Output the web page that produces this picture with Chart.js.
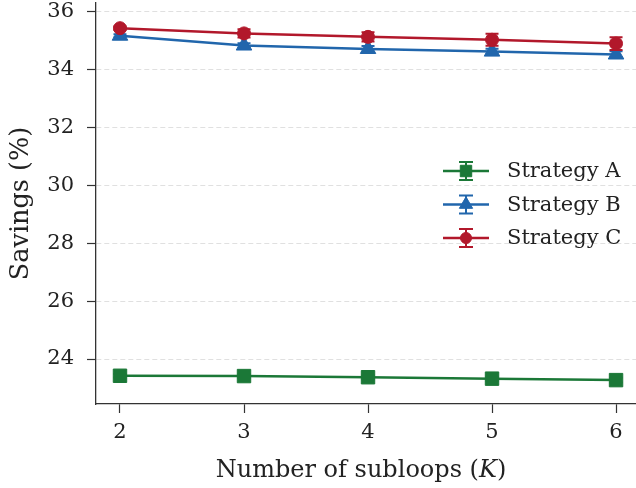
<!DOCTYPE html>
<html>
<head>
<meta charset="utf-8">
<title>Savings vs subloops</title>
<script src="https://cdn.jsdelivr.net/npm/chart.js@4.4.0/dist/chart.umd.min.js"></script>
<style>
  html, body { margin: 0; padding: 0; background: #fff; }
  #wrap { width: 636px; height: 488px; }
</style>
</head>
<body>
<div id="wrap"><canvas id="savingsChart" width="636" height="488"></canvas></div>
<script>
// data
const subloops = [2, 3, 4, 5, 6];
const yTicks = [24, 26, 28, 30, 32, 34, 36];
const seriesNames = ['Strategy A', 'Strategy B', 'Strategy C'];
const savingsA = [23.42, 23.41, 23.37, 23.32, 23.27];
const errA = [0.06, 0.06, 0.07, 0.07, 0.08];
const savingsB = [35.18, 34.84, 34.72, 34.63, 34.53];
const errB = [0.05, 0.08, 0.10, 0.10, 0.11];
const savingsC = [35.44, 35.26, 35.14, 35.04, 34.91];
const errC = [0.06, 0.14, 0.16, 0.21, 0.22];

const FONT = '"DejaVu Serif", "Liberation Serif", serif';
const TEXT = '#222222';
const AXIS = '#333333';

const looks = [
  { color: '#1b7837', marker: 'rect', radius: 9.5, order: 2 },
  { color: '#2166ac', marker: 'triangle', radius: 9, order: 1 },
  { color: '#b2182b', marker: 'circle', radius: 6.5, order: 0 }
];

function toPoints(vals) {
  return subloops.map((k, i) => ({ x: k, y: vals[i] }));
}

const values = [savingsA, savingsB, savingsC];
const errors = [errA, errB, errC];

const datasets = seriesNames.map((name, i) => ({
  label: name,
  data: toPoints(values[i]),
  errors: errors[i],
  borderColor: looks[i].color,
  backgroundColor: looks[i].color,
  borderWidth: 2.5,
  pointStyle: looks[i].marker,
  pointRadius: looks[i].radius,
  pointBorderWidth: 1,
  pointBorderColor: looks[i].color,
  pointBackgroundColor: looks[i].color,
  order: looks[i].order,
  clip: false,
  tension: 0
}));

// vertical error bars with caps, under each series' own line
const errorBars = {
  id: 'errorBars',
  beforeDatasetDraw(chart, args) {
    const ds = chart.data.datasets[args.index];
    const ys = chart.scales.y;
    const ctx = chart.ctx;
    ctx.save();
    ctx.strokeStyle = ds.borderColor;
    ctx.lineWidth = 2;
    args.meta.data.forEach((pt, i) => {
      const v = ds.data[i].y;
      const top = ys.getPixelForValue(v + ds.errors[i]);
      const bot = ys.getPixelForValue(v - ds.errors[i]);
      ctx.beginPath();
      ctx.moveTo(pt.x, top); ctx.lineTo(pt.x, bot);
      ctx.moveTo(pt.x - 6.5, top); ctx.lineTo(pt.x + 6.5, top);
      ctx.moveTo(pt.x - 6.5, bot); ctx.lineTo(pt.x + 6.5, bot);
      ctx.stroke();
    });
    ctx.restore();
  }
};

// matplotlib-like legend with errorbar handles
const legendBox = {
  id: 'legendBox',
  afterDraw(chart) {
    const ctx = chart.ctx;
    const area = chart.chartArea;
    ctx.save();
    seriesNames.forEach((name, i) => {
      const ds = chart.data.datasets[i];
      const cx = area.left + 370;
      const cy = area.top + 168 + i * 33.5;
      ctx.strokeStyle = ds.borderColor;
      ctx.fillStyle = ds.borderColor;
      ctx.lineWidth = 2.5;
      ctx.beginPath();
      ctx.moveTo(cx - 23, cy); ctx.lineTo(cx + 23, cy);
      ctx.stroke();
      ctx.lineWidth = 2;
      ctx.beginPath();
      ctx.moveTo(cx, cy - 9); ctx.lineTo(cx, cy + 9);
      ctx.moveTo(cx - 7, cy - 9); ctx.lineTo(cx + 7, cy - 9);
      ctx.moveTo(cx - 7, cy + 9); ctx.lineTo(cx + 7, cy + 9);
      ctx.stroke();
      ctx.lineWidth = 1;
      Chart.helpers.drawPoint(ctx, {
        pointStyle: looks[i].marker,
        radius: looks[i].radius * 0.85,
        rotation: 0,
        borderWidth: 1
      }, cx, cy);
      ctx.fillStyle = TEXT;
      ctx.font = '21px ' + FONT;
      ctx.textAlign = 'left';
      ctx.textBaseline = 'middle';
      ctx.fillText(name, cx + 41, cy + 1);
    });
    ctx.restore();
  }
};

// x axis title with italic K
const xTitle = {
  id: 'xTitle',
  afterDraw(chart) {
    const ctx = chart.ctx;
    const area = chart.chartArea;
    const parts = [
      { t: 'Number of subloops (', f: '24px ' + FONT },
      { t: 'K', f: 'italic 24px ' + FONT },
      { t: ')', f: '24px ' + FONT }
    ];
    ctx.save();
    let total = 0;
    parts.forEach(p => { ctx.font = p.f; p.w = ctx.measureText(p.t).width; total += p.w; });
    let x = area.left + 265 - total / 2;
    const y = area.bottom + 73;
    ctx.fillStyle = TEXT;
    ctx.textBaseline = 'alphabetic';
    ctx.textAlign = 'left';
    parts.forEach(p => { ctx.font = p.f; ctx.fillText(p.t, x, y); x += p.w; });
    ctx.restore();
  }
};

const ctx = document.getElementById('savingsChart').getContext('2d');
new Chart(ctx, {
  type: 'line',
  data: { datasets: datasets },
  plugins: [errorBars, legendBox, xTitle],
  options: {
    responsive: false,
    animation: false,
    devicePixelRatio: 1,
    layout: { autoPadding: false, padding: { top: 3, right: 0, left: 0, bottom: 0 } },
    plugins: {
      legend: { display: false },
      tooltip: { enabled: false }
    },
    scales: {
      x: {
        type: 'linear',
        min: 1.8065,
        max: 6.161,
        afterBuildTicks(scale) { scale.ticks = subloops.map(v => ({ value: v })); },
        afterFit(scale) {
          scale.height = 84;
          scale.paddingLeft = 0; scale.paddingRight = 0;
        },
        grid: {
          drawOnChartArea: false,
          tickLength: 9,
          tickColor: AXIS,
          tickWidth: 1.2
        },
        border: { display: true, color: AXIS, width: 1.3 },
        ticks: {
          padding: 7,
          color: TEXT,
          font: { family: FONT, size: 21 },
          callback: v => String(v)
        }
      },
      y: {
        type: 'linear',
        min: 22.444,
        max: 36.311,
        afterBuildTicks(scale) { scale.ticks = yTicks.map(v => ({ value: v })); },
        afterFit(scale) {
          scale.width = 96;
          scale.paddingTop = 0; scale.paddingBottom = 0;
        },
        grid: {
          color: '#dcdcdc',
          lineWidth: 0.9,
          tickLength: 9,
          tickColor: AXIS,
          tickWidth: 1.2
        },
        border: { display: true, color: AXIS, width: 1.3, dash: [5, 3] },
        ticks: {
          padding: 13,
          color: TEXT,
          font: { family: FONT, size: 21 },
          callback: v => String(v)
        },
        title: {
          display: true,
          text: 'Savings (%)',
          color: TEXT,
          font: { family: FONT, size: 25.5 },
          padding: { top: 6, bottom: 0 }
        }
      }
    }
  }
});
</script>
</body>
</html>
